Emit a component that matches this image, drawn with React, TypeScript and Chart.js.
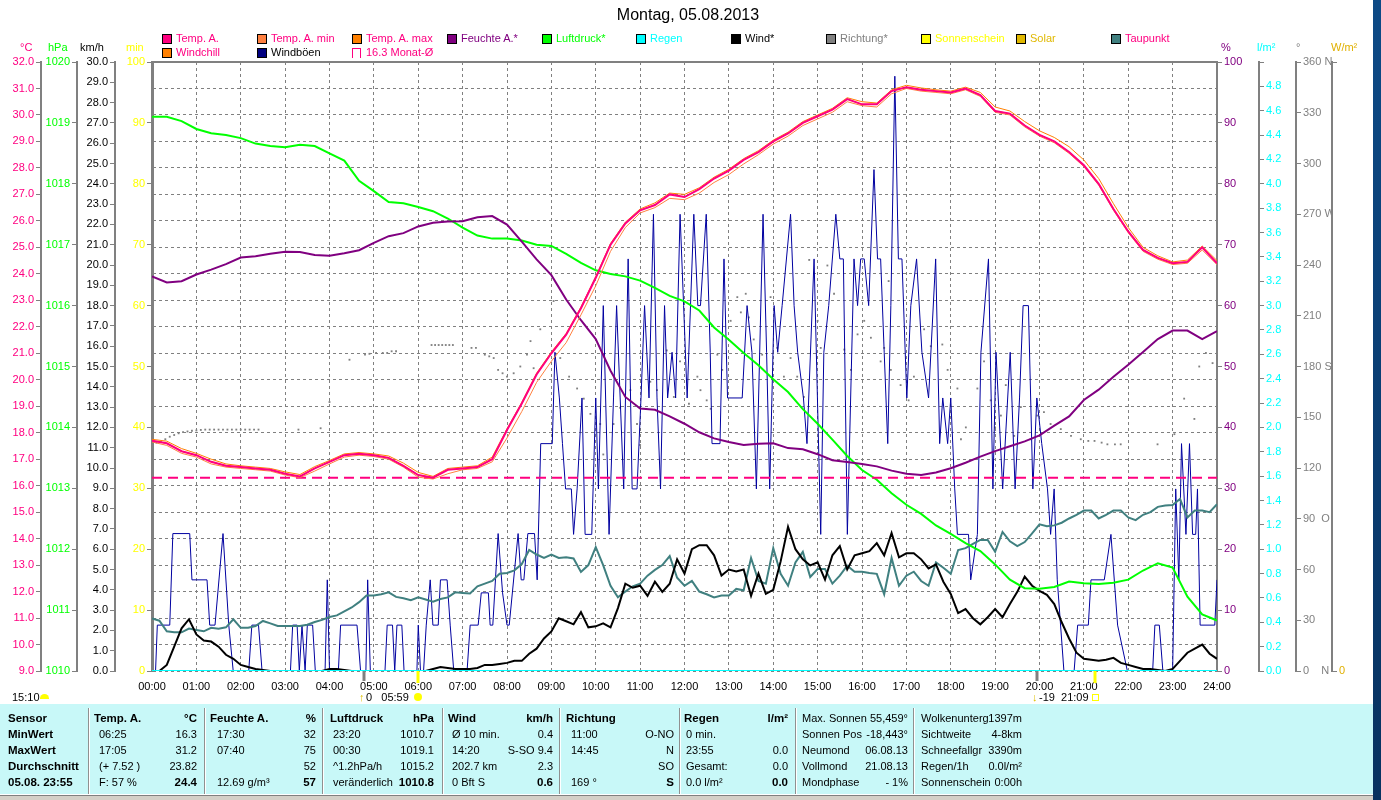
import React, { useEffect, useRef } from 'react';
import { Chart, registerables } from 'chart.js';

Chart.register(...registerables);

const FONT = "'Liberation Sans', Arial, Helvetica, sans-serif";

const hourLabels = ['00:00', '01:00', '02:00', '03:00', '04:00', '05:00', '06:00', '07:00', '08:00', '09:00', '10:00', '11:00', '12:00', '13:00', '14:00', '15:00', '16:00', '17:00', '18:00', '19:00', '20:00', '21:00', '22:00', '23:00', '24:00'];

// 20-minute samples 00:00 .. 24:00 (°C)
const tempA = [
  17.7, 17.6, 17.3, 17.15, 16.9, 16.75, 16.7, 16.65, 16.6, 16.45, 16.35, 16.65,
  16.9, 17.15, 17.2, 17.15, 17.05, 16.75, 16.4, 16.3, 16.6, 16.65, 16.7, 17.0,
  18.1, 19.1, 20.2, 21.0, 21.7, 22.7, 23.85, 25.1, 25.9, 26.4, 26.6, 27.0,
  26.9, 27.2, 27.6, 27.9, 28.3, 28.6, 29.0, 29.3, 29.7, 29.95, 30.2, 30.6,
  30.4, 30.4, 30.9, 31.05, 30.95, 30.9, 30.85, 31.0, 30.75, 30.15, 30.05, 29.6,
  29.25, 29.0, 28.6, 28.1, 27.4, 26.45, 25.6, 24.9, 24.6, 24.4, 24.45, 25.0, 24.4,
];
const tempAMax = [
  17.75, 17.68, 17.4, 17.22, 17.0, 16.82, 16.75, 16.7, 16.65, 16.52, 16.42, 16.72,
  16.95, 17.2, 17.25, 17.2, 17.12, 16.85, 16.5, 16.35, 16.65, 16.7, 16.75, 17.08,
  18.15, 19.15, 20.25, 21.05, 21.75, 22.75, 23.9, 25.15, 25.95, 26.45, 26.68, 27.05,
  27.0, 27.25, 27.65, 27.95, 28.35, 28.65, 29.05, 29.35, 29.75, 30.0, 30.25, 30.65,
  30.5, 30.45, 30.95, 31.12, 31.02, 30.95, 30.9, 31.05, 30.85, 30.3, 30.15, 29.75,
  29.4, 29.15, 28.8, 28.3, 27.6, 26.65, 25.75, 25.0, 24.68, 24.45, 24.52, 25.05, 24.5,
];
const tempAMin = [
  17.65, 17.52, 17.22, 17.08, 16.82, 16.7, 16.65, 16.6, 16.55, 16.4, 16.3, 16.55,
  16.82, 17.08, 17.15, 17.1, 17.0, 16.7, 16.32, 16.25, 16.45, 16.6, 16.65, 16.9,
  17.8, 18.8, 19.9, 20.7, 21.4, 22.45, 23.55, 24.85, 25.75, 26.3, 26.5, 26.85,
  26.8, 27.05, 27.45, 27.75, 28.15, 28.5, 28.9, 29.2, 29.6, 29.85, 30.1, 30.5,
  30.35, 30.3, 30.8, 31.0, 30.9, 30.85, 30.8, 30.95, 30.7, 30.1, 30.0, 29.55,
  29.2, 28.95, 28.55, 28.05, 27.35, 26.4, 25.55, 24.85, 24.55, 24.35, 24.4, 24.9, 24.35,
];
// 20-minute samples (%)
const humidity = [
  64.8, 63.8, 64.0, 65.1, 65.9, 66.8, 67.9, 68.1, 68.5, 68.85, 68.8, 68.3,
  68.2, 68.6, 69.1, 70.3, 71.4, 71.9, 73.0, 73.6, 73.8, 73.85, 74.5, 74.7,
  73.3, 70.5, 67.6, 65.0, 61.0, 57.6, 54.5, 49.3, 45.0, 43.1, 42.9, 41.8,
  40.6, 39.2, 38.2, 37.6, 37.1, 37.3, 37.4, 36.6, 36.4, 35.6, 34.6, 34.3,
  34.0, 33.6, 32.9, 32.4, 32.2, 32.6, 33.3, 34.2, 35.2, 36.1, 36.9, 37.7,
  38.7, 40.3, 41.8, 44.5, 46.2, 48.3, 50.3, 52.4, 54.5, 55.9, 55.9, 54.5, 55.8,
];
// 20-minute samples (hPa)
const pressure = [
  1019.1, 1019.1, 1019.03, 1018.9, 1018.83, 1018.8, 1018.75, 1018.66, 1018.62, 1018.6, 1018.64, 1018.62,
  1018.5, 1018.38, 1018.05, 1017.88, 1017.7, 1017.68, 1017.62, 1017.55, 1017.43, 1017.28, 1017.15, 1017.1,
  1017.1, 1017.07, 1017.0, 1016.98, 1016.85, 1016.7, 1016.58, 1016.52, 1016.48, 1016.41, 1016.29, 1016.16,
  1016.07, 1015.92, 1015.64, 1015.44, 1015.22, 1015.02, 1014.79, 1014.58, 1014.3, 1014.06, 1013.8, 1013.53,
  1013.3, 1013.14, 1012.92, 1012.73, 1012.58, 1012.39, 1012.25, 1012.1, 1011.97, 1011.75, 1011.5, 1011.36,
  1011.35, 1011.38, 1011.47, 1011.44, 1011.43, 1011.45, 1011.5, 1011.65, 1011.77, 1011.7, 1011.22, 1010.93, 1010.83,
];
// 10-minute samples (°C)
const dewPoint = [
  10.98, 10.9, 10.5, 10.46, 10.46, 10.6, 10.55, 10.5, 10.63, 10.6, 10.65, 10.95,
  10.63, 10.63, 10.7, 10.89, 10.8, 10.7, 10.7, 10.7, 10.7, 10.75, 10.85, 10.93,
  11.04, 11.1, 11.25, 11.4, 11.6, 11.85, 11.85, 11.9, 11.97, 11.8, 11.75, 11.67,
  11.78, 11.7, 11.62, 11.72, 11.78, 11.97, 11.95, 11.93, 12.2, 12.3, 12.4, 12.67,
  12.7, 12.8, 13.04, 13.57, 13.4, 13.27, 13.4, 13.27, 13.3, 13.25, 12.74, 13.0,
  13.68, 13.0, 12.22, 11.78, 12.0, 12.2, 12.3, 12.6, 12.82, 13.0, 13.34, 12.52,
  12.22, 12.4, 12.0, 11.9, 11.78, 11.85, 11.85, 12.1, 12.05, 13.27, 12.4, 12.3,
  13.64, 12.67, 12.22, 13.1, 13.5, 12.55, 12.85, 12.85, 12.3, 12.6, 12.98, 12.75,
  12.75, 12.7, 12.67, 11.9, 13.27, 12.22, 12.6, 12.75, 12.4, 12.22, 13.1, 12.9,
  12.67, 13.57, 13.64, 13.8, 13.95, 13.95, 13.5, 14.25, 13.9, 13.72, 13.87, 14.2,
  14.54, 14.47, 14.5, 14.6, 14.76, 14.9, 15.06, 15.06, 14.76, 14.9, 15.06, 15.06,
  14.8, 14.7, 14.9, 15.0, 15.2, 15.25, 15.27, 15.5, 14.8, 15.06, 15.06, 15.0, 15.3,
];
// 10-minute samples (km/h)
const wind = [
  0, 0, 0.3, 1.2, 2.1, 2.55, 1.8, 1.5, 1.45, 1.2, 0.8, 0.6,
  0.3, 0.2, 0.1, 0.05, 0, 0, 0, 0, 0, 0, 0, 0,
  0.1, 0.1, 0.05, 0, 0, 0, 0, 0, 0, 0, 0, 0,
  0, 0, 0.1, 0.2, 0.15, 0.1, 0.1, 0.1, 0.15, 0.3, 0.3, 0.35,
  0.4, 0.5, 0.5, 0.85, 1.1, 1.6, 1.95, 2.6, 2.45, 2.3, 2.9, 2.15,
  2.2, 2.35, 2.15, 3.1, 4.3, 4.1, 4.2, 3.7, 4.4, 3.9, 4.3, 5.5,
  4.8, 6.0, 6.2, 6.2, 5.7, 4.7, 5.0, 4.9, 5.0, 3.7, 4.8, 3.8,
  4.0, 5.4, 7.1, 6.0, 5.5, 5.2, 5.35, 4.5, 5.7, 6.15, 5.0, 5.7,
  5.8, 5.9, 6.3, 5.7, 6.8, 5.6, 5.8, 5.8, 5.5, 5.05, 5.25, 4.4,
  3.8, 2.85, 3.05, 2.6, 2.3, 2.65, 3.05, 2.65, 3.3, 3.9, 4.65, 4.2,
  3.95, 3.75, 3.3, 2.4, 1.6, 0.9, 0.6, 0.55, 0.5, 0.55, 0.65, 0.4,
  0.3, 0.2, 0.1, 0.1, 0.05, 0, 0.1, 0.5, 0.9, 1.1, 1.3, 0.85, 0.6,
];
// gusts: [hour, km/h]
const gusts: number[][] = [
  [0, 0], [0.08, 0], [0.12, 2.26], [0.4, 2.26], [0.47, 6.77], [0.85, 6.77], [0.9, 4.49], [1.24, 4.49],
  [1.3, 2.26], [1.42, 2.26], [1.6, 6.77], [1.73, 2.26], [1.83, 0], [2.18, 0], [2.25, 2.26], [2.4, 2.26],
  [2.48, 0], [3.12, 0], [3.17, 2.26], [3.27, 2.26], [3.32, 0], [3.38, 2.26], [3.45, 0], [3.5, 2.26],
  [3.62, 2.26], [3.68, 0], [3.9, 0], [3.95, 4.49], [4.0, 0], [4.2, 0], [4.25, 2.26], [4.62, 2.26],
  [4.7, 0], [4.82, 0], [4.86, 4.49], [4.92, 0], [5.25, 0], [5.3, 2.26], [5.42, 2.26], [5.47, 0],
  [5.52, 2.26], [5.63, 2.26], [5.68, 0], [5.97, 0], [6.0, 2.26], [6.05, 0], [6.12, 0], [6.18, 2.26],
  [6.27, 4.49], [6.33, 2.26], [6.45, 2.26], [6.5, 4.49], [6.65, 4.49], [6.72, 2.26], [6.8, 0], [7.1, 0],
  [7.17, 2.26], [7.35, 2.26], [7.42, 3.85], [7.58, 3.85], [7.62, 2.26], [7.68, 2.26], [7.8, 6.77], [7.9, 3.85],
  [8.0, 2.26], [8.05, 2.26], [8.25, 6.77], [8.32, 4.49], [8.38, 4.49], [8.47, 6.77], [8.62, 6.77], [8.68, 4.49],
  [8.76, 11.2], [9.02, 11.2], [9.08, 15.7], [9.18, 13.45], [9.25, 11.2], [9.32, 8.97], [9.45, 8.97], [9.5, 6.73],
  [9.58, 8.97], [9.69, 13.45], [9.76, 6.73], [9.91, 6.73], [10.0, 13.45], [10.06, 8.97], [10.17, 18.0], [10.3, 6.73],
  [10.4, 13.45], [10.47, 18.0], [10.55, 13.45], [10.63, 8.97], [10.73, 20.3], [10.82, 8.97], [10.93, 8.97], [11.02, 13.45],
  [11.1, 18.0], [11.2, 13.45], [11.3, 22.5], [11.38, 13.45], [11.46, 8.97], [11.55, 18.0], [11.62, 13.45], [11.72, 15.7],
  [11.8, 13.45], [11.9, 22.5], [11.98, 18.0], [12.06, 13.45], [12.21, 22.5], [12.3, 18.0], [12.36, 18.0], [12.49, 22.5],
  [12.58, 15.7], [12.62, 11.2], [12.8, 11.2], [12.89, 20.3], [12.97, 13.45], [13.3, 13.45], [13.41, 18.0], [13.52, 15.7],
  [13.62, 8.97], [13.77, 22.5], [13.85, 15.7], [13.92, 8.97], [14.02, 18.0], [14.1, 15.7], [14.2, 18.0], [14.39, 22.5],
  [14.47, 18.0], [14.55, 15.7], [14.68, 13.45], [14.76, 11.2], [14.92, 20.3], [15.07, 6.73], [15.14, 15.7], [15.25, 18.0],
  [15.41, 22.5], [15.5, 20.3], [15.58, 20.3], [15.67, 6.73], [15.82, 20.3], [15.9, 18.0], [15.97, 20.3], [16.05, 20.3],
  [16.15, 18.0], [16.27, 24.7], [16.35, 20.3], [16.42, 20.3], [16.5, 15.7], [16.58, 11.2], [16.65, 18.0], [16.74, 29.3],
  [16.82, 20.3], [16.9, 20.3], [17.01, 13.45], [17.1, 18.0], [17.23, 20.3], [17.35, 15.7], [17.5, 13.45], [17.66, 20.3],
  [17.75, 11.2], [17.82, 13.45], [17.93, 11.2], [18.0, 13.45], [18.09, 8.97], [18.15, 6.73], [18.4, 6.73], [18.45, 4.49],
  [18.6, 6.73], [18.68, 15.7], [18.85, 20.3], [18.95, 8.97], [19.02, 15.7], [19.17, 8.97], [19.34, 15.7], [19.45, 8.97],
  [19.55, 13.45], [19.63, 18.0], [19.75, 18.0], [19.85, 8.97], [19.94, 13.45], [20.05, 11.2], [20.18, 8.97], [20.25, 6.73],
  [20.33, 8.97], [20.4, 4.49], [20.55, 0], [20.78, 0], [20.86, 2.26], [21.1, 2.26], [21.16, 4.49], [21.46, 4.49],
  [21.61, 6.73], [21.76, 2.26], [21.98, 0], [22.55, 0], [22.6, 2.26], [22.7, 2.26], [22.78, 0], [23.0, 0],
  [23.07, 8.97], [23.14, 4.49], [23.2, 11.2], [23.3, 6.73], [23.38, 11.2], [23.45, 6.73], [23.52, 6.73], [23.56, 8.97],
  [23.62, 2.26], [23.95, 2.26], [24.0, 4.49],
];
// wind direction: [hour, degrees]
const direction: number[][] = [
  [0.0, 135], [0.1, 135], [0.2, 135.5], [0.3, 137], [0.4, 138.5], [0.5, 139.5], [0.6, 140.5], [0.7, 141.2],
  [0.8, 141.6], [0.9, 142], [1.0, 142.2], [1.1, 142.5], [1.2, 142.7], [1.3, 142.7], [1.4, 142.7], [1.5, 142.7],
  [1.6, 142.7], [1.7, 142.7], [1.8, 142.7], [1.9, 142.7], [2.0, 142.7], [2.1, 142.7], [2.2, 142.7], [2.3, 142.7],
  [2.4, 142.7], [3.3, 142.7], [3.8, 143.5], [4.0, 159], [4.45, 184], [4.8, 187], [4.9, 187.5], [5.05, 188],
  [5.2, 188], [5.3, 188], [5.4, 189], [5.5, 189], [6.3, 192.7], [6.38, 192.7], [6.46, 192.7], [6.54, 192.7],
  [6.62, 192.7], [6.7, 192.7], [6.78, 192.7], [7.2, 191], [7.3, 191], [7.5, 187], [7.6, 186], [7.7, 185],
  [7.8, 178], [7.9, 176], [8.0, 174], [8.15, 176], [8.3, 180], [8.45, 187], [8.53, 195], [8.6, 179],
  [8.75, 202], [9.05, 218.7], [9.2, 185], [9.4, 174], [9.58, 167], [9.73, 161], [9.88, 152], [10.1, 146],
  [10.17, 128], [10.4, 146], [10.55, 155.6], [10.78, 166], [10.93, 146], [11.0, 133.6], [11.23, 171], [11.38, 166],
  [11.6, 189.5], [11.76, 162], [11.9, 183], [12.1, 158], [12.29, 174], [12.36, 166], [12.5, 160], [12.59, 155],
  [12.74, 187], [12.85, 178], [13.04, 207], [13.19, 221], [13.27, 212], [13.38, 223], [13.45, 209], [13.56, 196],
  [13.75, 187], [13.94, 221], [14.09, 191], [14.24, 174], [14.39, 185], [14.54, 174], [14.69, 162], [14.81, 243],
  [15.0, 207], [15.07, 191], [15.22, 239.7], [15.37, 223], [15.6, 190], [15.75, 178], [15.9, 199], [16.05, 207],
  [16.2, 197], [16.42, 183], [16.5, 191], [16.6, 230.5], [16.65, 178], [16.87, 169], [17.05, 160], [17.17, 174],
  [17.4, 202], [17.55, 192], [17.81, 193], [17.93, 178], [18.15, 167], [18.23, 137], [18.34, 144], [18.6, 167],
  [18.75, 183], [18.9, 160], [19.0, 144], [19.13, 151], [19.24, 169], [19.43, 139], [19.58, 156], [19.8, 137],
  [19.95, 151], [20.1, 153], [20.25, 146], [20.48, 143], [20.71, 139], [20.93, 137], [21.1, 136], [21.24, 136],
  [21.4, 135], [21.53, 134], [21.7, 134], [21.83, 134], [22.66, 134], [23.04, 140], [23.26, 161], [23.49, 149],
  [23.6, 180], [23.75, 188], [23.9, 182], [24.0, 176],
];
// hourly rain (l/m²)
const rain = [0, 0, 0, 0, 0, 0, 0, 0, 0, 0, 0, 0, 0, 0, 0, 0, 0, 0, 0, 0, 0, 0, 0, 0, 0];
const monthAvgTemp = 16.3;
const moonMarks = [4.78, 19.94];
const sunMarks = [5.99, 21.25];

const dirNames: Record<number, string> = { 0: '0    N', 90: '90  O', 180: '180 S', 270: '270 W', 360: '360 N' };

const GRAY = '#808080';
const tickFont = { family: FONT, size: 11 };

function vAxis(position: string, weight: number, width: number, min: number, max: number, step: number, color: string, fmt: (v: number) => string, borderWidth = 2) {
  return {
    type: 'linear',
    position,
    weight,
    min,
    max,
    afterFit: (s: any) => { s.width = width; },
    ticks: { stepSize: step, autoSkip: false, color, font: tickFont, padding: 2, callback: (v: any) => fmt(Number(v)) },
    grid: { drawOnChartArea: false, drawTicks: true, tickLength: 5, color: GRAY, lineWidth: 1 },
    border: { display: true, color: GRAY, width: borderWidth },
  };
}

export default function App() {
  const ref = useRef<HTMLCanvasElement>(null);

  useEffect(() => {
    document.body.style.margin = '0';
    const canvas = ref.current;
    if (!canvas) return;
    const s20 = (a: number[]) => a.map((v, i) => ({ x: i / 3, y: v }));
    const s10 = (a: number[]) => a.map((v, i) => ({ x: i / 6, y: v }));
    const pr = (a: number[][]) => a.map(([x, y]) => ({ x, y }));
    const line = (label: string, data: any[], yAxisID: string, color: string, width: number, extra: any = {}) => ({
      label, data, yAxisID, borderColor: color, backgroundColor: color, borderWidth: width,
      pointRadius: 0, tension: 0, fill: false, ...extra,
    });

    const framePlugin = {
      id: 'frame',
      beforeDatasetsDraw(chart: any) {
        const { ctx, chartArea: a } = chart;
        ctx.save();
        ctx.strokeStyle = GRAY;
        ctx.lineWidth = 2;
        ctx.beginPath();
        ctx.moveTo(a.left, a.top);
        ctx.lineTo(a.right, a.top);
        ctx.lineTo(a.right, a.bottom);
        ctx.stroke();
        ctx.restore();
      },
      afterDraw(chart: any) {
        const { ctx, chartArea: a, scales } = chart;
        const xs = scales.x;
        ctx.save();
        ctx.lineWidth = 3;
        ctx.strokeStyle = GRAY;
        moonMarks.forEach((h) => {
          const x = Math.round(xs.getPixelForValue(h));
          ctx.beginPath(); ctx.moveTo(x, a.bottom); ctx.lineTo(x, a.bottom + 10); ctx.stroke();
        });
        ctx.strokeStyle = '#ffff00';
        sunMarks.forEach((h) => {
          const x = Math.round(xs.getPixelForValue(h));
          ctx.beginPath(); ctx.moveTo(x, a.bottom); ctx.lineTo(x, a.bottom + 12); ctx.stroke();
        });
        ctx.restore();
      },
    };

    const chart = new Chart(canvas, {
      type: 'line',
      data: {
        datasets: [
          line('Regen', rain.map((v, i) => ({ x: i, y: v })), 'yR', '#00ffff', 2),
          line('Temp. A.', s20(tempA), 'yT', '#ff0080', 2),
          line('Temp. A. max', s20(tempAMax), 'yT', '#ff8000', 1),
          line('Temp. A. min', s20(tempAMin), 'yT', '#ff8040', 1),
          line('Windchill', s20(tempA), 'yT', '#ff8000', 1),
          line('16.3 Monat-Ø', [{ x: 0, y: monthAvgTemp }, { x: 24, y: monthAvgTemp }], 'yT', '#ff0080', 2, { borderDash: [10, 6] }),
          line('Feuchte A.*', s20(humidity), 'yH', '#800080', 2),
          line('Luftdruck*', s20(pressure), 'yP', '#00ff00', 2),
          line('Wind*', s10(wind), 'yW', '#000000', 2),
          line('Taupunkt', s10(dewPoint), 'yT', '#408080', 2),
          line('Windböen', pr(gusts), 'yW', '#0000a0', 1),
          line('Richtung*', pr(direction), 'yD', GRAY, 0, {
            showLine: false, pointRadius: 1.3, pointStyle: 'rect', pointBorderWidth: 0, pointBackgroundColor: GRAY,
          }),
        ],
      },
      options: {
        animation: false,
        responsive: false,
        maintainAspectRatio: false,
        events: [],
        layout: { padding: { top: 62, left: 0, right: 0, bottom: 0 } },
        plugins: { legend: { display: false }, tooltip: { enabled: false }, title: { display: false } },
        scales: {
          x: {
            type: 'linear',
            position: 'bottom',
            min: 0,
            max: 24,
            afterFit: (s: any) => { s.height = 34; },
            ticks: {
              stepSize: 1, autoSkip: false, maxRotation: 0, color: '#000', font: tickFont, padding: 9,
              callback: (v: any) => hourLabels[Math.round(Number(v))] ?? '',
            },
            grid: { color: GRAY, lineWidth: 1, drawTicks: false },
            border: { display: false, dash: [3, 3] },
          },
          yT: {
            type: 'linear',
            position: 'left',
            weight: 3,
            min: 9,
            max: 32,
            afterFit: (s: any) => { s.width = 41; },
            ticks: { stepSize: 1, autoSkip: false, color: '#ff0080', font: tickFont, padding: 2, callback: (v: any) => Number(v).toFixed(1) },
            grid: { drawOnChartArea: true, drawTicks: true, tickLength: 5, color: GRAY, lineWidth: 1 },
            border: { display: true, color: GRAY, width: 2, dash: [3, 3] },
          },
          yP: vAxis('left', 2, 36, 1010, 1020, 1, '#00ff00', (v) => String(Math.round(v))),
          yW: vAxis('left', 1, 38, 0, 30, 1, '#000000', (v) => v.toFixed(1)),
          yM: vAxis('left', 0, 37, 0, 100, 10, '#ffff00', (v) => String(Math.round(v)), 3),
          yH: vAxis('right', 0, 42, 0, 100, 10, '#800080', (v) => String(Math.round(v))),
          yR: vAxis('right', 1, 37, 0, 5, 0.2, '#00ffff', (v) => (v > 4.9 ? '' : v.toFixed(1))),
          yD: vAxis('right', 2, 36, 0, 360, 30, GRAY, (v) => dirNames[Math.round(v)] ?? String(Math.round(v))),
          yS: vAxis('right', 3, 41, 0, 1, 1, '#e0b000', (v) => (v === 0 ? '0' : '')),
        },
      } as any,
      plugins: [framePlugin],
    } as any);
    return () => chart.destroy();
  }, []);

  const legendRow1 = [
    { x: 162, label: 'Temp. A.', box: '#ff0080', text: '#ff0080' },
    { x: 257, label: 'Temp. A. min', box: '#ff8040', text: '#ff0080' },
    { x: 352, label: 'Temp. A. max', box: '#ff8000', text: '#ff0080' },
    { x: 447, label: 'Feuchte A.*', box: '#800080', text: '#800080' },
    { x: 542, label: 'Luftdruck*', box: '#00ff00', text: '#00ff00' },
    { x: 636, label: 'Regen', box: '#00ffff', text: '#00ffff' },
    { x: 731, label: 'Wind*', box: '#000000', text: '#000000' },
    { x: 826, label: 'Richtung*', box: '#808080', text: '#808080' },
    { x: 921, label: 'Sonnenschein', box: '#ffff00', text: '#ffff00' },
    { x: 1016, label: 'Solar', box: '#e0b800', text: '#e0b800' },
    { x: 1111, label: 'Taupunkt', box: '#408080', text: '#ff0080' },
  ];
  const legendRow2 = [
    { x: 162, label: 'Windchill', box: '#ff8000', text: '#ff0080' },
    { x: 257, label: 'Windböen', box: '#000080', text: '#000000' },
  ];

  const abs = (left: number, top: number, extra: any = {}) => ({ position: 'absolute' as const, left, top, ...extra });
  const txt = (left: number, top: number, color: string, s: string, size = 11, extra: any = {}) => (
    <div style={abs(left, top, { color, fontSize: size, lineHeight: '14px', whiteSpace: 'pre', ...extra })}>{s}</div>
  );

  const cols = [
    { hx: 8, dx: 8, rx: 0, head: ['Sensor', ''], rows: [['MinWert', ''], ['MaxWert', ''], ['Durchschnitt', ''], ['05.08. 23:55', '']], kind: 'sensor' },
    { hx: 94, dx: 99, rx: 197, head: ['Temp. A.', '°C'], rows: [['06:25', '16.3'], ['17:05', '31.2'], ['(+ 7.52 )', '23.82'], ['F: 57 %', '24.4']], kind: 'std' },
    { hx: 210, dx: 217, rx: 316, head: ['Feuchte A.', '%'], rows: [['17:30', '32'], ['07:40', '75'], ['', '52'], ['12.69 g/m³', '57']], kind: 'std' },
    { hx: 330, dx: 333, rx: 434, head: ['Luftdruck', 'hPa'], rows: [['23:20', '1010.7'], ['00:30', '1019.1'], ['^1.2hPa/h', '1015.2'], ['veränderlich', '1010.8']], kind: 'std' },
    { hx: 448, dx: 452, rx: 553, head: ['Wind', 'km/h'], rows: [['Ø 10 min.', '0.4'], ['14:20', 'S-SO 9.4'], ['202.7 km', '2.3'], ['0 Bft S', '0.6']], kind: 'std' },
    { hx: 566, dx: 571, rx: 674, head: ['Richtung', ''], rows: [['11:00', 'O-NO'], ['14:45', 'N'], ['', 'SO'], ['169 °', 'S']], kind: 'std' },
    { hx: 684, dx: 686, rx: 788, head: ['Regen', 'l/m²'], rows: [['0 min.', ''], ['23:55', '0.0'], ['Gesamt:', '0.0'], ['0.0 l/m²', '0.0']], kind: 'std' },
    { hx: 802, dx: 802, rx: 908, head: ['Max. Sonnen', '55,459°'], rows: [['Sonnen Pos', '-18,443°'], ['Neumond', '06.08.13'], ['Vollmond', '21.08.13'], ['Mondphase', '- 1%']], kind: 'plain' },
    { hx: 921, dx: 921, rx: 1022, head: ['Wolkenunterg', '1397m'], rows: [['Sichtweite', '4-8km'], ['Schneefallgr', '3390m'], ['Regen/1h', '0.0l/m²'], ['Sonnenschein', '0:00h']], kind: 'plain' },
  ];
  const rowTops = [711, 727, 743, 759, 775];
  const seps = [88, 204, 322, 442, 559, 679, 795, 913];

  const cell = (left: number, top: number, s: string, bold: boolean, key: string) => (
    <div key={key} style={abs(left, top, { fontSize: bold ? 11.5 : 11, fontWeight: bold ? 700 : 400, lineHeight: '14px', whiteSpace: 'pre', color: '#000' })}>{s}</div>
  );
  const rcell = (right: number, top: number, s: string, bold: boolean, key: string) => (
    <div key={key} style={abs(right - 150, top, { width: 150, textAlign: 'right', fontSize: bold ? 11.5 : 11, fontWeight: bold ? 700 : 400, lineHeight: '14px', whiteSpace: 'pre', color: '#000' })}>{s}</div>
  );

  return (
    <div style={{ position: 'fixed', left: 0, top: 0, width: 1381, height: 800, background: '#ffffff', overflow: 'hidden', fontFamily: FONT }}>
      <canvas ref={ref} width={1373} height={705} style={{ position: 'absolute', left: 0, top: 0, width: 1373, height: 705 }} />

      <div style={abs(488, 5, { width: 400, textAlign: 'center', fontSize: 16, lineHeight: '20px', color: '#000' })}>Montag, 05.08.2013</div>

      {legendRow1.map((it) => (
        <React.Fragment key={'l1' + it.label}>
          <div style={abs(it.x, 34, { width: 8, height: 8, background: it.box, border: '1px solid #000' })} />
          {txt(it.x + 14, 31, it.text, it.label)}
        </React.Fragment>
      ))}
      {legendRow2.map((it) => (
        <React.Fragment key={'l2' + it.label}>
          <div style={abs(it.x, 48, { width: 8, height: 8, background: it.box, border: '1px solid #000' })} />
          {txt(it.x + 14, 45, it.text, it.label)}
        </React.Fragment>
      ))}
      <div style={abs(352, 48, { width: 7, height: 9, borderLeft: '1px solid #ff0080', borderTop: '1px solid #ff0080', borderRight: '1px solid #ff0080' })} />
      {txt(366, 45, '#ff0080', '16.3 Monat-Ø')}

      {txt(20, 40, '#ff0080', '°C')}
      {txt(48, 40, '#00ff00', 'hPa')}
      {txt(80, 40, '#000000', 'km/h')}
      {txt(126, 40, '#ffff00', 'min')}
      {txt(1221, 40, '#800080', '%')}
      {txt(1257, 40, '#00ffff', 'l/m²')}
      {txt(1296, 40, '#808080', '°')}
      {txt(1331, 40, '#e0b000', 'W/m²')}

      {txt(12, 690, '#000', '15:10')}
      <div style={abs(40, 694, { width: 9, height: 5, background: '#ffff00', borderRadius: '5px 5px 0 0' })} />
      {txt(359, 690, '#e0c000', '↑')}
      {txt(366, 690, '#000', '0   05:59')}
      <div style={abs(414, 693, { width: 8, height: 8, background: '#ffff00', borderRadius: 4 })} />
      {txt(1032, 690, '#e0c000', '↓')}
      {txt(1039, 690, '#000', '-19  21:09')}
      <div style={abs(1092, 694, { width: 5, height: 5, border: '1px solid #ffff00' })} />

      <div style={abs(0, 704, { width: 1373, height: 90, background: '#c8f8f8' })} />
      {seps.map((x) => (
        <div key={'s' + x} style={abs(x, 708, { width: 1, height: 86, background: '#909090', borderRight: '1px solid #ffffff' })} />
      ))}
      {cols.map((c, ci) => (
        <React.Fragment key={'c' + ci}>
          {cell(c.hx, rowTops[0], c.head[0], c.kind !== 'plain', `h${ci}l`)}
          {c.head[1] ? rcell(c.rx, rowTops[0], c.head[1], c.kind !== 'plain', `h${ci}r`) : null}
          {c.rows.map((r, ri) => (
            <React.Fragment key={`r${ci}-${ri}`}>
              {r[0] ? cell(c.kind === 'sensor' ? c.hx : c.dx, rowTops[ri + 1], r[0], c.kind === 'sensor', `c${ci}-${ri}l`) : null}
              {r[1] ? rcell(c.rx, rowTops[ri + 1], r[1], c.kind === 'std' && ri === 3, `c${ci}-${ri}r`) : null}
            </React.Fragment>
          ))}
        </React.Fragment>
      ))}
      <div style={abs(0, 794, { width: 1373, height: 1, background: '#ffffff' })} />
      <div style={abs(0, 795, { width: 1373, height: 5, background: '#d4d0c8', borderTop: '1px solid #808080' })} />
      <div style={abs(1373, 0, { width: 8, height: 800, background: 'linear-gradient(#0d4a86, #083260)' })} />
    </div>
  );
}
